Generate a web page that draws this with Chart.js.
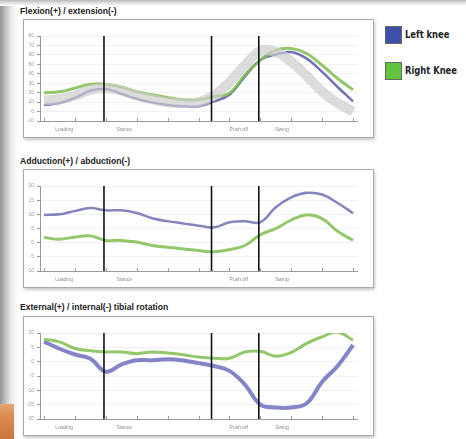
<!DOCTYPE html>
<html>
<head>
<meta charset="utf-8">
<script src="https://cdn.jsdelivr.net/npm/chart.js@4/dist/chart.umd.min.js"></script>
<style>
    body { margin: 0; width: 466px; height: 439px; background: #fff; position: relative; overflow: hidden; font-family: "Liberation Sans", Arial, sans-serif; }
    .edge { position: absolute; left: 0; top: 0; width: 18px; height: 439px; background: linear-gradient(to right, #959595 0, #c4c4c4 6px, #ececec 12px, #fff 18px); }
    .topedge { position: absolute; left: 0; top: 0; width: 466px; height: 6px; background: linear-gradient(to bottom, #b9b9b9 0, #e2e2e2 3px, #fff 6px); }
    .orange { position: absolute; left: 0; top: 404px; width: 14px; height: 35px; background: linear-gradient(to bottom, #e2a574 0, #d98a4c 40%, #c9773a 100%); }
    .title { position: absolute; left: 20px; font-weight: bold; font-size: 8.6px; color: #222; white-space: nowrap; }
    .box { position: absolute; left: 23px; width: 349px; background: #fff; border: 1px solid #a9a9a9; box-shadow: 1px 2px 3px rgba(0,0,0,0.22); }
    .box canvas { position: absolute; left: 0; top: 0; }
    .leg { position: absolute; left: 385px; width: 15px; height: 16px; border: 1px solid #666; }
    .legtxt { position: absolute; left: 405px; font-family: "Liberation Sans Narrow", "DejaVu Sans Condensed", sans-serif; font-weight: bold; font-size: 10px; color: #222; white-space: nowrap; transform: scaleX(0.93); transform-origin: left center; }
</style>
</head>
<body>
<div class="edge"></div>
<div class="topedge"></div>
<div class="orange"></div>

<div class="title" style="top:6px">Flexion(+) / extension(-)</div>
<div class="box" style="top:19px;height:117px"><canvas id="flex" width="349" height="117"></canvas></div>

<div class="title" style="top:156px">Adduction(+) / abduction(-)</div>
<div class="box" style="top:169px;height:117px"><canvas id="abd" width="349" height="117"></canvas></div>

<div class="title" style="top:302px">External(+) / internal(-) tibial rotation</div>
<div class="box" style="top:316px;height:118px"><canvas id="rot" width="349" height="118"></canvas></div>

<div class="leg" style="top:26px;background:#3f4fae"></div>
<div class="legtxt" style="top:29px">Left knee</div>
<div class="leg" style="top:62px;background:#63c33c"></div>
<div class="legtxt" style="top:65px">Right Knee</div>

<script>
// % of gait cycle
var gaitPct = [0, 5, 10, 15, 20, 25, 30, 35, 40, 45, 50, 55, 60, 65, 70, 75, 80, 85, 90, 95, 100];

// flexion(+) / extension(-)
var flexLeft   = [7, 9, 14.5, 22, 24, 19, 13.6, 9.7, 7, 5.5, 5.5, 10.7, 17.8, 37, 54.5, 60.5, 63, 56, 42, 26, 10.7];
var flexRight  = [20, 21, 24.8, 29, 29, 26, 21, 17.8, 15, 12.5, 12.5, 16, 19.6, 38.8, 54.5, 65, 66.8, 61.5, 49, 35, 23];
var flexNormal = [12, 13, 17, 23, 25, 22, 17, 13, 10, 9, 10, 17, 31, 49, 64, 63, 52.7, 37.7, 21, 9, 0];

// adduction(+) / abduction(-)
var abdLeft  = [9.8, 10, 11.2, 12.2, 11.4, 11.4, 10.5, 8.6, 7.6, 6.8, 6, 5.4, 7.2, 7.6, 7.2, 12.5, 16, 17.6, 17, 14, 10.4];
var abdRight = [1.8, 1.2, 2, 2.4, 0.8, 0.8, 0.2, -1, -1.6, -2.2, -2.8, -3.2, -2.4, -1, 2.8, 5, 8, 9.8, 8.5, 4, 0.8];

// external(+) / internal(-) tibial rotation
var rotLeft  = [7, 4.5, 2.5, 1, -3.5, -1, 0.5, 0.5, 0.8, 0.4, -0.5, -1.5, -3.2, -8, -15, -16, -16, -14.5, -7, -1.5, 5.8];
var rotRight = [7.8, 6.9, 4.6, 3.8, 3.4, 3.4, 2.8, 3.4, 3, 2.4, 1.6, 1.2, 1.2, 3.4, 3.6, 1.9, 3.2, 6.4, 8.7, 10.3, 7.5];

var flexTicks = [80, -10, 10];
var abdTicks  = [20, -10, 5];
var rotTicks  = [10, -20, 5];

// gait phases
var phaseLines = [19.4, 54.2, 69.5];
var phaseNames = ['Loading', 'Stance', 'Push off', 'Swing'];
var phaseAt    = [6.5, 26, 63, 77];

var gaitDecor = {
    id: 'gaitDecor',
    afterDraw: function (chart) {
        var ctx = chart.ctx, area = chart.chartArea, x = chart.scales.x;
        ctx.save();
        // x axis + small ticks
        ctx.strokeStyle = '#9a9a9a';
        ctx.lineWidth = 1;
        ctx.beginPath();
        ctx.moveTo(area.left, area.bottom + 0.5);
        ctx.lineTo(area.right, area.bottom + 0.5);
        for (var v = 0; v <= 100; v += 10) {
            var px = Math.round(x.getPixelForValue(v)) + 0.5;
            ctx.moveTo(px, area.bottom);
            ctx.lineTo(px, area.bottom - 3);
        }
        ctx.stroke();
        // phase borders
        ctx.strokeStyle = '#111';
        ctx.lineWidth = 1.6;
        for (var i = 0; i < phaseLines.length; i++) {
            var lx = x.getPixelForValue(phaseLines[i]);
            ctx.beginPath();
            ctx.moveTo(lx, area.top);
            ctx.lineTo(lx, area.bottom);
            ctx.stroke();
        }
        // phase names
        ctx.fillStyle = '#8a8a8a';
        ctx.font = '5px "Liberation Sans", sans-serif';
        ctx.textAlign = 'center';
        ctx.textBaseline = 'middle';
        for (var j = 0; j < phaseNames.length; j++) {
            ctx.fillText(phaseNames[j], x.getPixelForValue(phaseAt[j]), area.bottom + 9);
        }
        ctx.restore();
    }
};

function line(data, color, width) {
    return {
        data: data.map(function (v, i) { return { x: gaitPct[i], y: v }; }),
        borderColor: color,
        borderWidth: width,
        pointRadius: 0,
        tension: 0.4,
        fill: false
    };
}

function makeChart(id, datasets, ticks) {
    return new Chart(document.getElementById(id), {
        type: 'line',
        data: { datasets: datasets },
        options: {
            responsive: false,
            animation: false,
            layout: { padding: { left: 0, right: 15, top: 16, bottom: 16 } },
            plugins: { legend: { display: false }, tooltip: { enabled: false } },
            scales: {
                x: {
                    type: 'linear', min: -1.3, max: 101.6,
                    display: false
                },
                y: {
                    min: ticks[1], max: ticks[0],
                    afterFit: function (s) { s.width = 16; },
                    ticks: { stepSize: ticks[2], color: '#9a9a9a', font: { size: 5 }, padding: 3 },
                    grid: { color: '#f1f1f1', tickColor: '#9a9a9a', tickLength: 3 },
                    border: { color: '#9a9a9a' }
                }
            }
        },
        plugins: [gaitDecor]
    });
}

makeChart('flex', [
    line(flexNormal, 'rgba(205,205,205,0.7)', 10),
    line(flexRight, 'rgba(128,190,80,0.85)', 3),
    line(flexLeft, 'rgba(88,88,168,0.85)', 2.5)
], flexTicks);

makeChart('abd', [
    line(abdRight, 'rgba(128,190,80,0.85)', 3),
    line(abdLeft, 'rgba(110,110,180,0.85)', 2.5)
], abdTicks);

makeChart('rot', [
    line(rotRight, 'rgba(128,190,80,0.85)', 3),
    line(rotLeft, 'rgba(110,110,190,0.85)', 4)
], rotTicks);
</script>
</body>
</html>
